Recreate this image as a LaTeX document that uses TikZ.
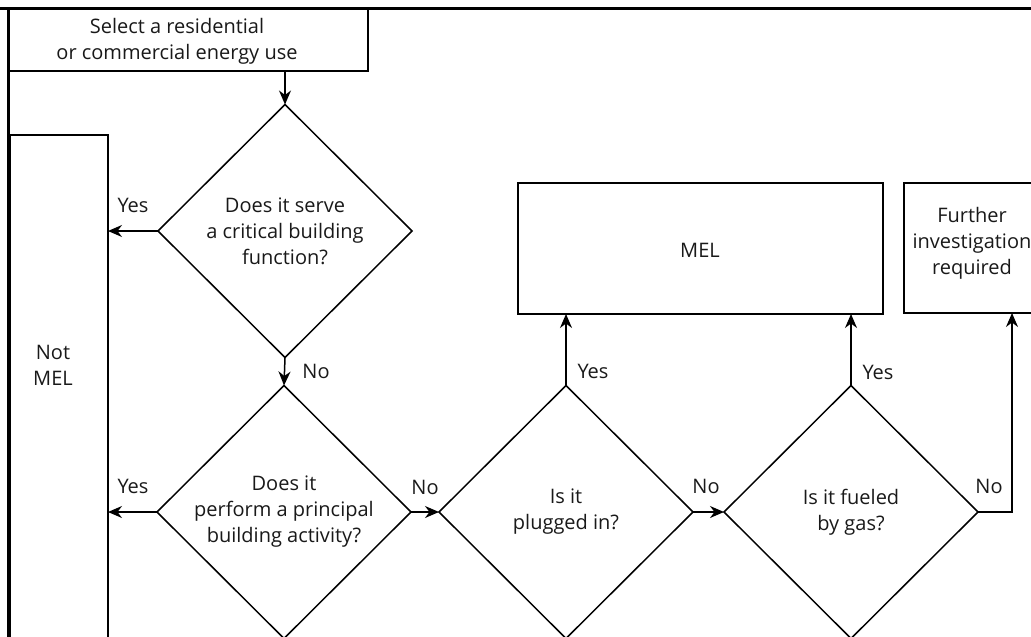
\documentclass[tikz,border=0pt]{standalone}
\usepackage{fontspec}
\setmainfont{Open Sans}
\usetikzlibrary{shapes.geometric,arrows.meta}
\begin{document}
\begin{tikzpicture}[x=1pt,y=-1pt,
  every node/.style={inner sep=0pt,outer sep=0pt},
  txt/.style={font=\fontsize{20}{26}\selectfont,align=center,text=black!90},
  boxn/.style={draw,line width=1.5pt,rectangle},
  dia/.style={draw,line width=1.5pt,diamond,minimum width=254pt,minimum height=253pt,
              font=\fontsize{20}{26}\selectfont,align=center,text=black!90},
  arr/.style={line width=1.5pt,-{Stealth[length=14pt,width=12pt,inset=4.5pt]}},
  lbl/.style={font=\fontsize{20}{26}\selectfont,text=black!90}
]
\useasboundingbox (0,0) rectangle (1031,637);
\clip (0,0) rectangle (1031,637);
% frame
\draw[line width=3pt] (0,8.5) -- (1031,8.5);
\draw[line width=3pt] (8.5,7) -- (8.5,640);
% boxes
\node[boxn,minimum width=360pt,minimum height=63pt] (sel) at (188,39.5) {};
\node[txt] (selt) at (177,41) {Select a residential\\or commercial energy use};
\node[boxn,minimum width=98pt,minimum height=525pt] (notmel) at (59,397.5) {};
\node[txt] (notmelt) at (53,365) {Not\\MEL};
\node[boxn,minimum width=365pt,minimum height=131pt] (mel) at (700.5,248.5) {};
\node[txt] (melt) at (700,250) {MEL};
\node[boxn,minimum width=144pt,minimum height=130pt] (fur) at (976,248) {};
\node[txt] (furt) at (972,243) {Further\\investigation\\required};
% diamonds
\node[dia] (d1) at (285,231) {Does it serve\\a critical building\\function?};
\node[dia] (d2) at (284,512) {Does it\\perform a principal\\building activity?};
\node[dia] (d3) at (566,512) {Is it\\plugged in?};
\node[dia] (d4) at (851,512) {Is it fueled\\by gas?};
\coordinate (fin) at (1012,0);
% connectors
\draw[arr] (sel.south -| d1.north) -- (d1.north);
\draw[arr] (d1.west) -- (d1.west -| notmel.east);
\draw[arr] (d1.south) -- (d2.north);
\draw[arr] (d2.west) -- (d2.west -| notmel.east);
\draw[arr] (d2.east) -- (d3.west);
\draw[arr] (d3.north) -- (d3.north |- mel.south);
\draw[arr] (d3.east) -- (d4.west);
\draw[arr] (d4.north) -- (d4.north |- mel.south);
\draw[arr] (d4.east) -| (fin |- fur.south);
% labels
\node[lbl] (l1) at (133,205) {Yes};
\node[lbl] (l2) at (316,371) {No};
\node[lbl] (l3) at (133,486) {Yes};
\node[lbl] (l4) at (425,487) {No};
\node[lbl] (l5) at (593,371) {Yes};
\node[lbl] (l6) at (706,486) {No};
\node[lbl] (l7) at (878,372) {Yes};
\node[lbl] (l8) at (989,486) {No};
\end{tikzpicture}
\end{document}
